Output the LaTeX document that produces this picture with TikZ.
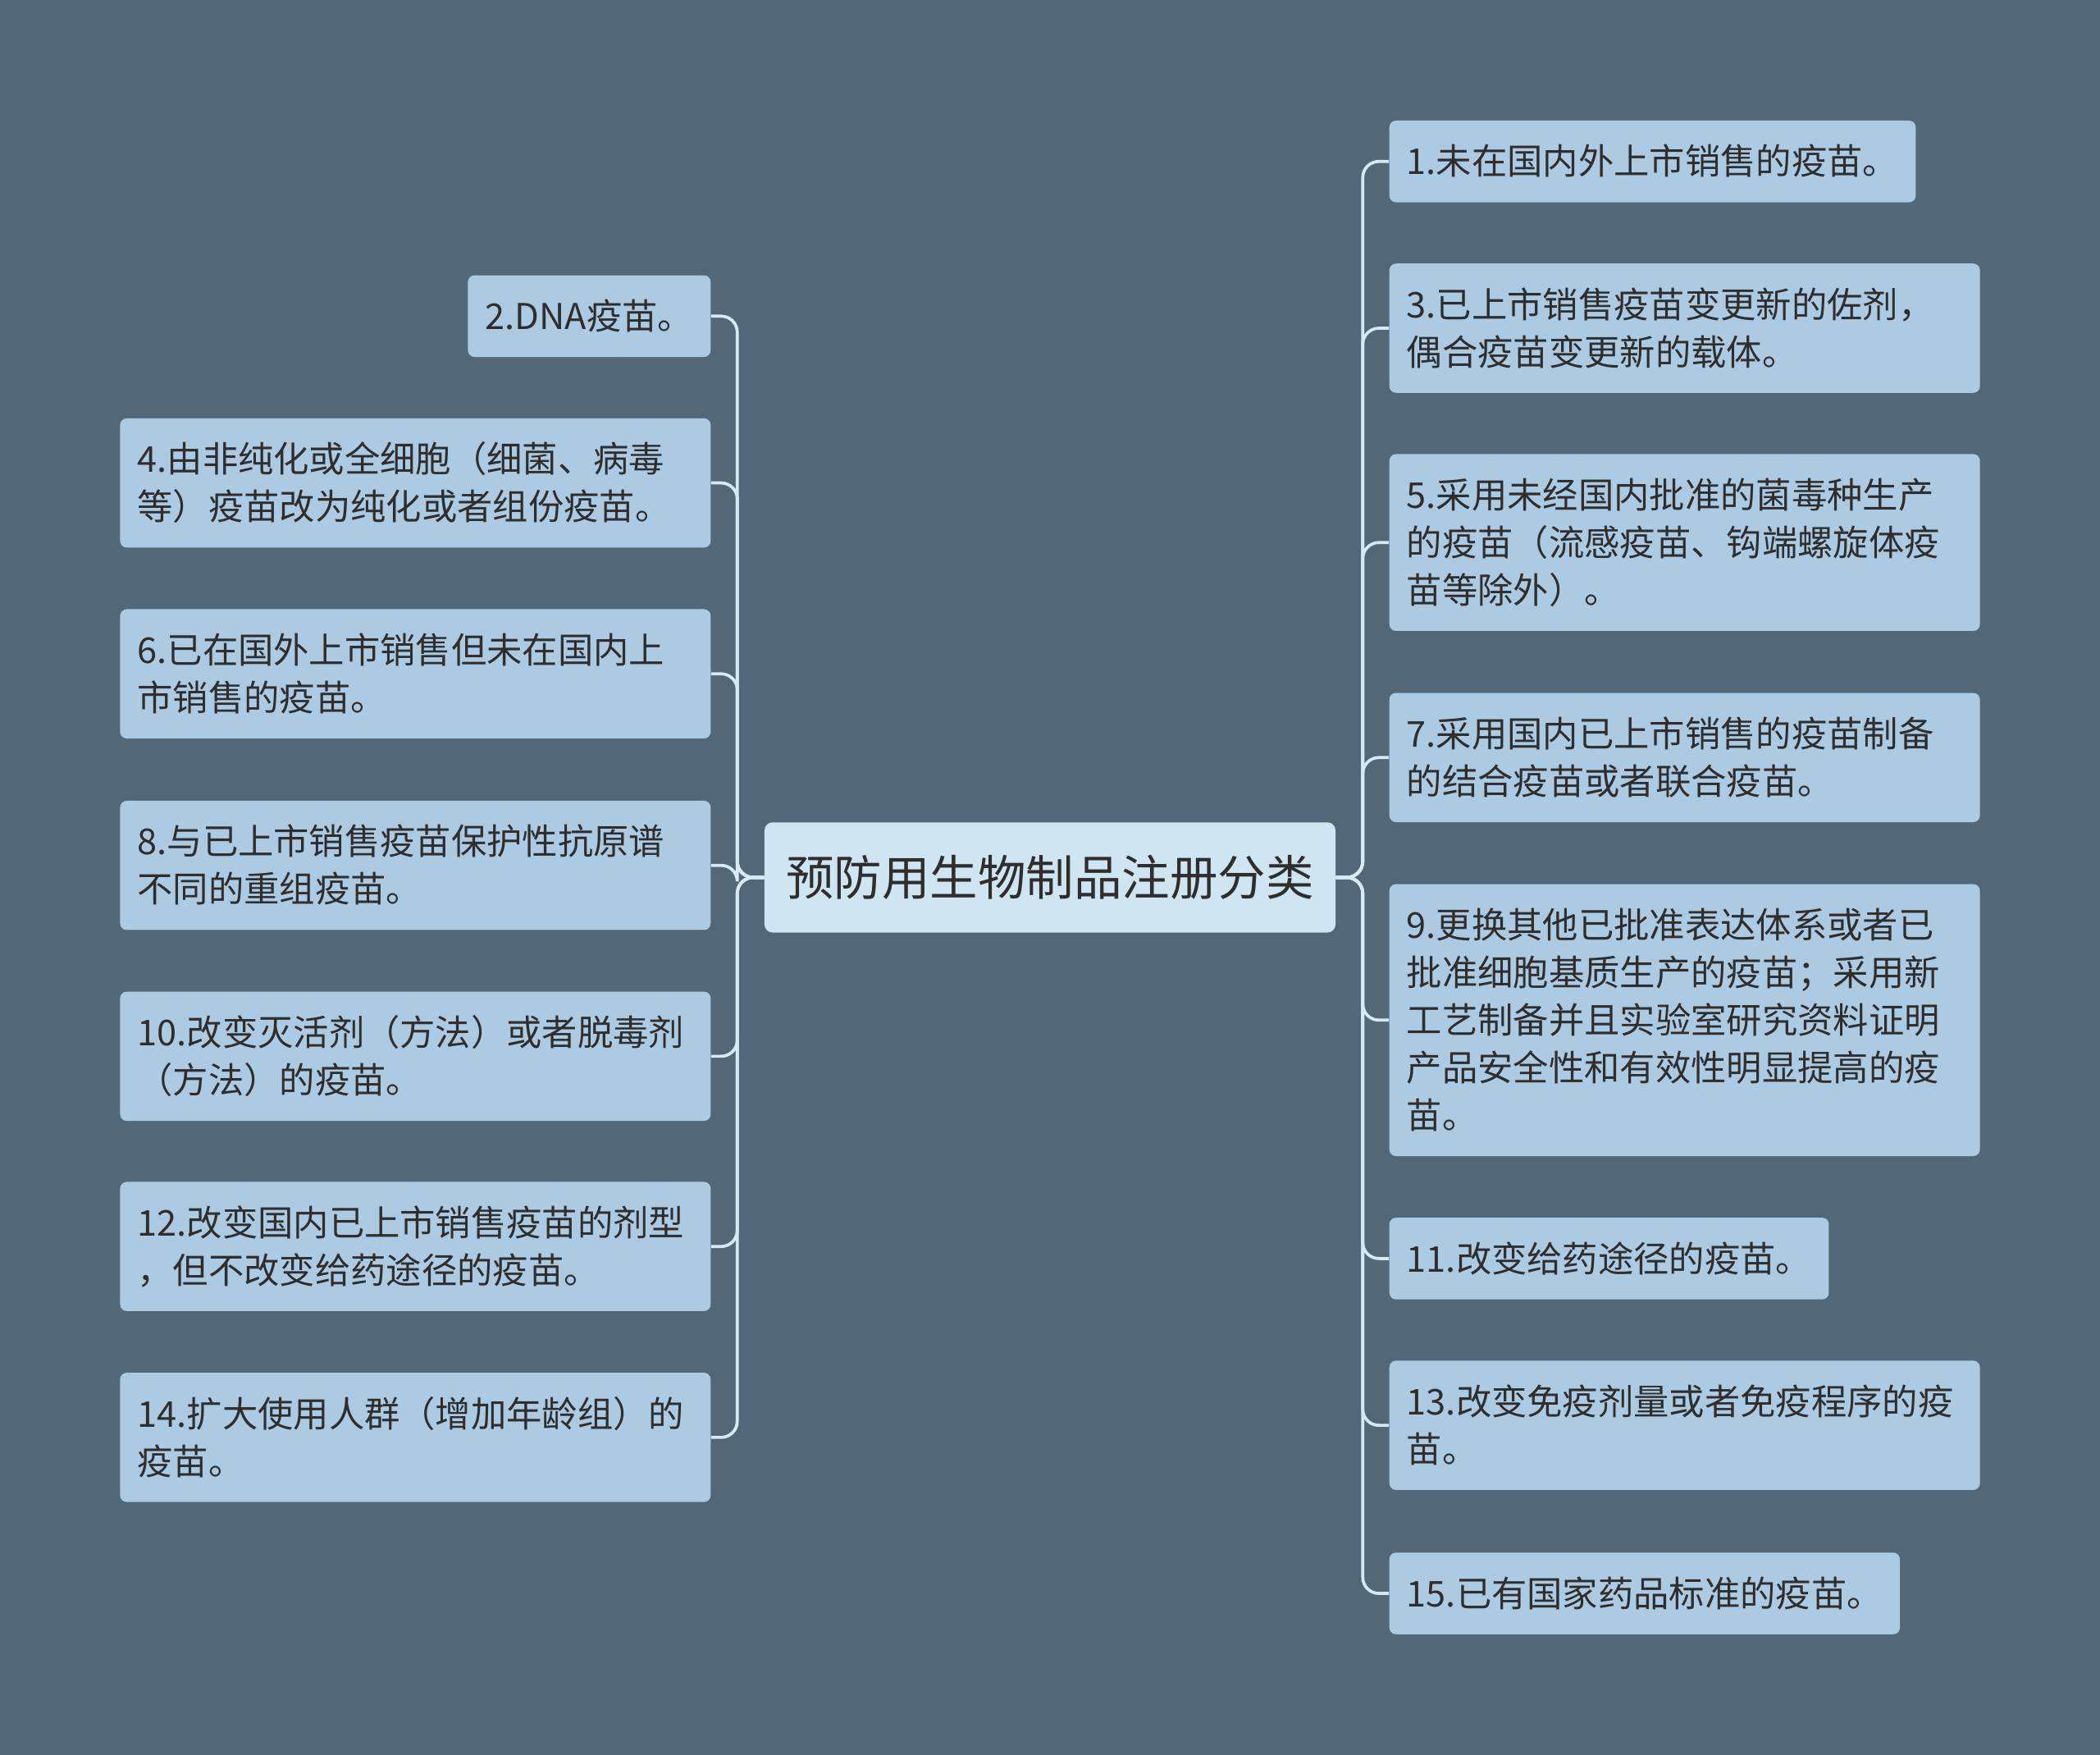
\documentclass[tikz,border=0pt]{standalone}
\usepackage{fontspec}
\newfontfamily\cjk{Noto Sans CJK SC}
\definecolor{bgcol}{HTML}{526878}
\definecolor{leafcol}{HTML}{ACCAE2}
\definecolor{rootcol}{HTML}{CFE5F2}
\definecolor{linkcol}{HTML}{D6EAF5}
\definecolor{txtcol}{HTML}{2E2E2E}
\newcommand{\lstrut}{\rule[-0.22\baselineskip]{0pt}{\baselineskip}}
\begin{document}
\begin{tikzpicture}[
  leaf/.style={fill=leafcol,rounded corners=0.1cm,inner xsep=0.26cm,inner ysep=0.255cm,
    align=left,text=txtcol,font=\cjk\fontsize{15.1pt}{20.2pt}\selectfont,
    execute at begin node=\lstrut,execute at end node=\lstrut},
  wide/.style={leaf,text width=8.3cm},
  root/.style={fill=rootcol,rounded corners=0.12cm,inner xsep=0.32cm,inner ysep=0.33cm,
    text=txtcol,font=\cjk\fontsize{20.4pt}{28pt}\selectfont,
    execute at begin node=\lstrut},
  link/.style={draw=linkcol,line width=1.3pt,rounded corners=0.24cm}]
  \fill[bgcol] (0,0) rectangle (31.36,-26.2);
  \useasboundingbox (0,0) rectangle (31.36,-26.2);
  \node[root] (r) at (15.68,-13.10) {预防用生物制品注册分类};
  % right side
  \node[leaf,anchor=west] (n1) at (20.74,-2.41) {1.未在国内外上市销售的疫苗。};
  \node[wide,anchor=west] (n3) at (20.74,-4.90) {3.已上市销售疫苗变更新的佐剂，\\偶合疫苗变更新的载体。};
  \node[wide,anchor=west] (n5) at (20.74,-8.10) {5.采用未经国内批准的菌毒种生产\\的疫苗（流感疫苗、钩端螺旋体疫\\苗等除外）。};
  \node[wide,anchor=west] (n7) at (20.74,-11.31) {7.采用国内已上市销售的疫苗制备\\的结合疫苗或者联合疫苗。};
  \node[wide,anchor=west] (n9) at (20.74,-15.23) {9.更换其他已批准表达体系或者已\\批准细胞基质生产的疫苗；采用新\\工艺制备并且实验室研究资料证明\\产品安全性和有效性明显提高的疫\\苗。};
  \node[leaf,anchor=west] (n11) at (20.74,-18.79) {11.改变给药途径的疫苗。};
  \node[wide,anchor=west] (n13) at (20.74,-21.28) {13.改变免疫剂量或者免疫程序的疫\\苗。};
  \node[leaf,anchor=west] (n15) at (20.74,-23.79) {15.已有国家药品标准的疫苗。};
  % left side
  \node[leaf,anchor=east] (n2) at (10.62,-4.72) {2.DNA疫苗。};
  \node[wide,anchor=east] (n4) at (10.62,-7.21) {4.由非纯化或全细胞（细菌、病毒\\等）疫苗改为纯化或者组份疫苗。};
  \node[wide,anchor=east] (n6) at (10.62,-10.06) {6.已在国外上市销售但未在国内上\\市销售的疫苗。};
  \node[wide,anchor=east] (n8) at (10.62,-12.92) {8.与已上市销售疫苗保护性抗原谱\\不同的重组疫苗。};
  \node[wide,anchor=east] (n10) at (10.62,-15.77) {10.改变灭活剂（方法）或者脱毒剂\\（方法）的疫苗。};
  \node[wide,anchor=east] (n12) at (10.62,-18.61) {12.改变国内已上市销售疫苗的剂型\\，但不改变给药途径的疫苗。};
  \node[wide,anchor=east] (n14) at (10.62,-21.46) {14.扩大使用人群（增加年龄组）的\\疫苗。};
  \foreach \n in {n1,n3,n5,n7,n9,n11,n13,n15}
    \draw[link] (r.east) -- ++(0.4,0) |- (\n.west);
  \foreach \n in {n2,n4,n6,n8,n10,n12,n14}
    \draw[link] (r.west) -- ++(-0.4,0) |- (\n.east);
\end{tikzpicture}
\end{document}
